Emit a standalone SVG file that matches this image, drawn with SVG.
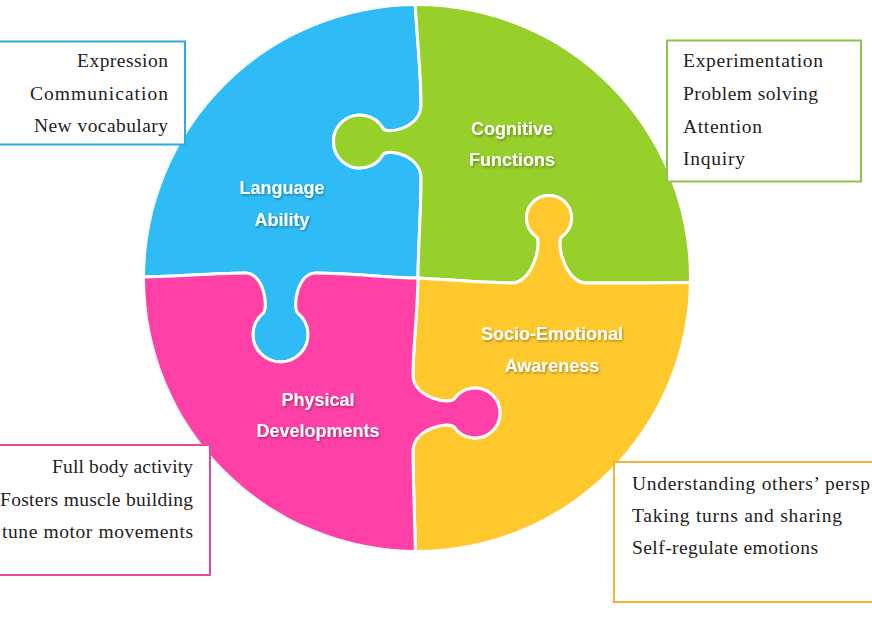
<svg xmlns="http://www.w3.org/2000/svg" width="872" height="638" viewBox="0 0 872 638">
<style>
.piece{stroke:#ffffff;stroke-width:3;stroke-linejoin:round}
.lbl{font-family:"Liberation Sans",Arial,sans-serif;font-weight:bold;font-size:18px;fill:#ffffff;text-anchor:middle;filter:url(#shadow)}
.box{fill:#ffffff;stroke-width:2}
.bt{font-family:"Liberation Serif","Times New Roman",serif;font-size:19.5px;fill:#222222}
.r{text-anchor:end}
</style>
<defs>
<clipPath id="circ"><circle cx="417" cy="278" r="272"/></clipPath>
<filter id="shadow" x="-20%" y="-40%" width="140%" height="180%">
<feDropShadow dx="1" dy="1.5" stdDeviation="1" flood-color="#000000" flood-opacity="0.35"/>
</filter>
</defs>
<rect width="872" height="638" fill="#ffffff"/>
<g clip-path="url(#circ)">
<g id="language-ability">
<path class="piece" fill="#2EBBF6" d="M100,0 L415,0 C417,40 421,70 421,105 C421,128 386.9,135.2 382.9,128.25 A26.5,26.5 0 1 0 382.9,154.75 C386.9,147.8 421,155 421,178 C421,215 418,250 418,278 C390,278 350,273 316,273 C297,273 292.1,308.3 298.2,313.4 A27.5,27.5 0 1 1 262.8,313.4 C268.9,308.3 264,273 245,273 C215,273 180,277 100,278 Z"/>
</g>
<g id="cognitive-functions">
<path class="piece" fill="#97CF2B" d="M418,278 C418,250 421,215 421,178 C421,155 386.9,147.8 382.9,154.75 A26.5,26.5 0 1 1 382.9,128.25 C386.9,135.2 421,128 421,105 C421,70 417,40 415,0 L720,0 L720,282 C660,283 620,283 586,283 C565,283 555.3,241 561.9,236.4 A22.5,22.5 0 1 0 536.1,236.4 C542.7,241 533,283 512,283 C490,283 450,280 418,278 Z"/>
</g>
<g id="socio-emotional-awareness">
<path class="piece" fill="#FFC92E" d="M418,278 C450,280 490,283 512,283 C533,283 542.7,241 536.1,236.4 A22.5,22.5 0 1 1 561.9,236.4 C555.3,241 565,283 586,283 C620,283 660,283 720,282 L720,580 L416,580 C415,520 413,480 413,451 C413,428 449.9,420.7 454.5,427.3 A25,25 0 1 0 454.5,398.7 C449.9,405.3 413,398 413,375 C413,350 417,320 418,278 Z"/>
</g>
<g id="physical-developments">
<path class="piece" fill="#FF40A6" d="M418,278 C417,320 413,350 413,375 C413,398 449.9,405.3 454.5,398.7 A25,25 0 1 1 454.5,427.3 C449.9,420.7 413,428 413,451 C413,480 415,520 416,580 L100,580 L100,278 C180,277 215,273 245,273 C264,273 268.9,308.3 262.8,313.4 A27.5,27.5 0 1 0 298.2,313.4 C292.1,308.3 297,273 316,273 C350,273 390,278 418,278 Z"/>
</g>
</g>
<g id="piece-labels">
<text class="lbl" x="282" y="194">Language</text>
<text class="lbl" x="282" y="226">Ability</text>
<text class="lbl" x="512" y="135">Cognitive</text>
<text class="lbl" x="512" y="166">Functions</text>
<text class="lbl" x="552" y="340">Socio-Emotional</text>
<text class="lbl" x="552" y="372">Awareness</text>
<text class="lbl" x="318" y="406">Physical</text>
<text class="lbl" x="318" y="437">Developments</text>
</g>
<g id="box-language">
<rect class="box" x="-2" y="41.5" width="187" height="103" stroke="#2BAAE3"/>
<text class="bt r" x="168" y="67" textLength="91" lengthAdjust="spacing">Expression</text>
<text class="bt r" x="168" y="100" textLength="138" lengthAdjust="spacing">Communication</text>
<text class="bt r" x="168" y="132" textLength="134" lengthAdjust="spacing">New vocabulary</text>
</g>
<g id="box-cognitive">
<rect class="box" x="667" y="40.5" width="194" height="141" stroke="#8CC447"/>
<text class="bt" x="683" y="67" textLength="140" lengthAdjust="spacing">Experimentation</text>
<text class="bt" x="683" y="100" textLength="135" lengthAdjust="spacing">Problem solving</text>
<text class="bt" x="683" y="133" textLength="79" lengthAdjust="spacing">Attention</text>
<text class="bt" x="683" y="165" textLength="62" lengthAdjust="spacing">Inquiry</text>
</g>
<g id="box-physical">
<rect class="box" x="-2" y="445" width="212" height="130" stroke="#E04C9C"/>
<text class="bt r" x="193" y="473" textLength="141" lengthAdjust="spacing">Full body activity</text>
<text class="bt r" x="193" y="506" textLength="193" lengthAdjust="spacing">Fosters muscle building</text>
<text class="bt r" x="193" y="538" textLength="191" lengthAdjust="spacing">tune motor movements</text>
</g>
<g id="box-socio">
<rect class="box" x="614" y="462" width="270" height="140" stroke="#F0B33A"/>
<text class="bt" x="632" y="490" textLength="238" lengthAdjust="spacing">Understanding others’ persp</text>
<text class="bt" x="632" y="522" textLength="210" lengthAdjust="spacing">Taking turns and sharing</text>
<text class="bt" x="632" y="554" textLength="186" lengthAdjust="spacing">Self-regulate emotions</text>
</g>
</svg>
